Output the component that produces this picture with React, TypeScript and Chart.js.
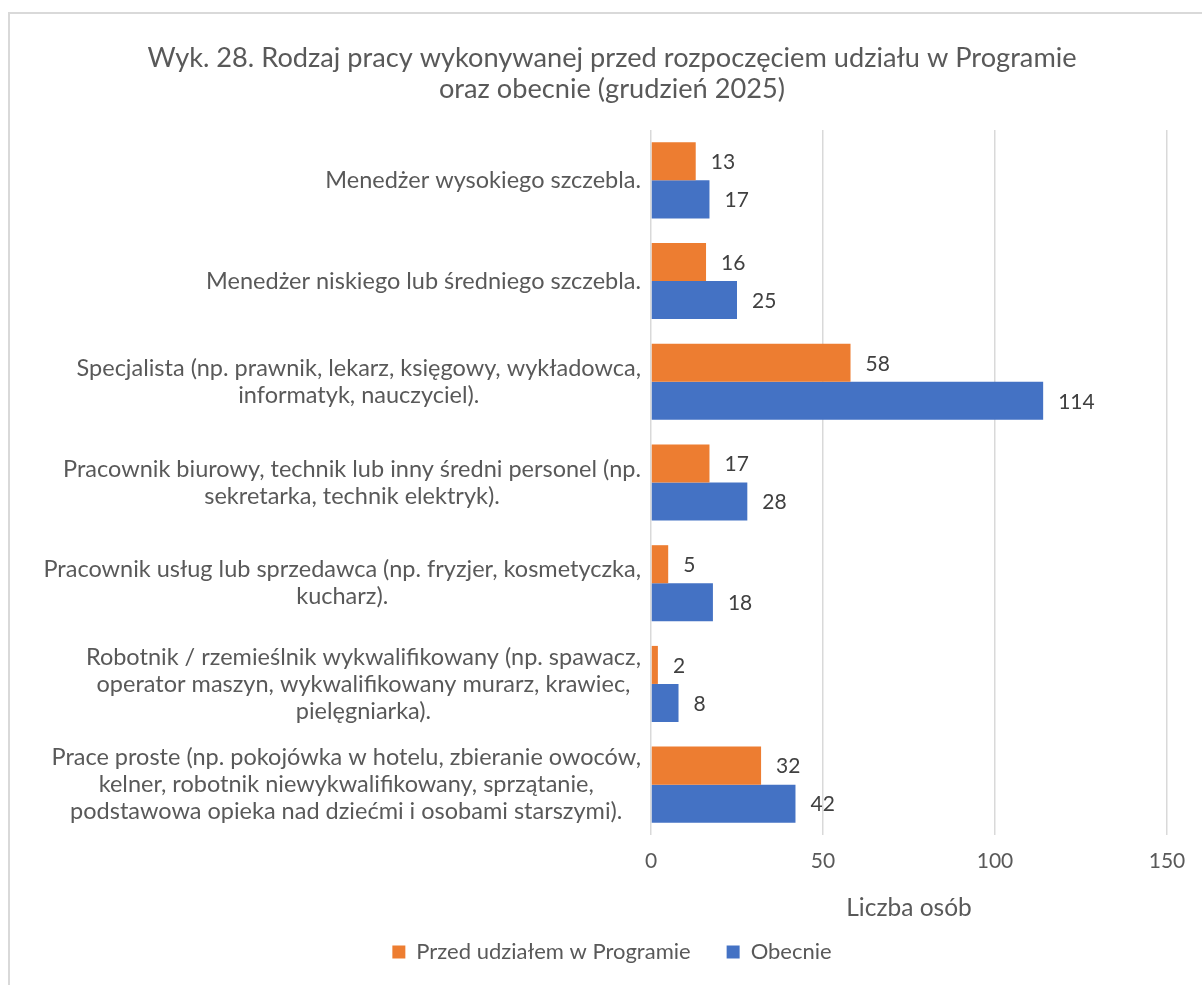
import React, { useEffect, useRef } from "react";
import { Chart, registerables } from "chart.js";

Chart.register(...registerables);

// ---------- data ----------
const categoryLines: string[][] = [
  ["Menedżer wysokiego szczebla."],
  ["Menedżer niskiego lub średniego szczebla."],
  ["Specjalista (np. prawnik, lekarz, księgowy, wykładowca,", "informatyk, nauczyciel)."],
  ["Pracownik biurowy, technik lub inny średni personel (np.", "sekretarka, technik elektryk)."],
  ["Pracownik usług lub sprzedawca (np. fryzjer, kosmetyczka,", "kucharz)."],
  ["Robotnik / rzemieślnik wykwalifikowany (np. spawacz,", "operator maszyn, wykwalifikowany murarz, krawiec,", "pielęgniarka)."],
  ["Prace proste (np. pokojówka w hotelu, zbieranie owoców,", "kelner, robotnik niewykwalifikowany, sprzątanie,", "podstawowa opieka nad dziećmi i osobami starszymi)."],
];
const seriesNames = ["Przed udziałem w Programie", "Obecnie"];
const przedValues = [13, 16, 58, 17, 5, 2, 32];
const obecnieValues = [17, 25, 114, 28, 18, 8, 42];
const xTickValues = [0, 50, 100, 150];
const titleLines = [
  "Wyk. 28. Rodzaj pracy wykonywanej przed rozpoczęciem udziału w Programie",
  "oraz obecnie (grudzień 2025)",
];
const xAxisTitle = "Liczba osób";

// ---------- style ----------
const FONT = "Lato, 'Open Sans', sans-serif";
const TEXT = "#595959";
const LABEL_DARK = "#404040";
const ORANGE = "#ED7D31";
const BLUE = "#4472C4";
const GRID = "#D9D9D9";
const CAT_FONT = 23.5;
const CAT_LINE = 27;
const VAL_FONT = 21;

const categoryLabelPlugin = {
  id: "categoryLabels",
  afterDraw(chart: any) {
    const { ctx, chartArea, scales } = chart;
    const y = scales.y;
    ctx.save();
    ctx.font = `${CAT_FONT}px ${FONT}`;
    ctx.fillStyle = TEXT;
    ctx.textAlign = "center";
    ctx.textBaseline = "middle";
    categoryLines.forEach((lines, i) => {
      const cy = y.getPixelForValue(i);
      const w = Math.max(...lines.map((l) => ctx.measureText(l).width));
      const right = chartArea.left - 10;
      const cx = right - w / 2;
      const n = lines.length;
      lines.forEach((l, j) => {
        ctx.fillText(l, cx, cy + (j - (n - 1) / 2) * CAT_LINE);
      });
    });
    ctx.restore();
  },
};

const valueLabelPlugin = {
  id: "valueLabels",
  afterDatasetsDraw(chart: any) {
    const { ctx } = chart;
    ctx.save();
    ctx.font = `${VAL_FONT}px ${FONT}`;
    ctx.fillStyle = LABEL_DARK;
    ctx.textAlign = "left";
    ctx.textBaseline = "middle";
    chart.data.datasets.forEach((ds: any, di: number) => {
      const meta = chart.getDatasetMeta(di);
      meta.data.forEach((bar: any, j: number) => {
        const { x, y } = bar.getProps(["x", "y"], true);
        ctx.fillText(String(ds.data[j]), x + 15, y + 1);
      });
    });
    ctx.restore();
  },
};

export default function App() {
  const ref = useRef<HTMLCanvasElement | null>(null);

  useEffect(() => {
    if (!ref.current) return;
    const chart = new Chart(ref.current, {
      type: "bar",
      data: {
        labels: categoryLines.map((l) => l.join(" ")),
        datasets: [
          {
            label: seriesNames[0],
            data: przedValues,
            backgroundColor: ORANGE,
            categoryPercentage: 0.755,
            barPercentage: 1,
          },
          {
            label: seriesNames[1],
            data: obecnieValues,
            backgroundColor: BLUE,
            categoryPercentage: 0.755,
            barPercentage: 1,
          },
        ],
      },
      options: {
        indexAxis: "y",
        responsive: false,
        animation: false,
        layout: { padding: { left: 0, right: 0, top: 0, bottom: 12 } },
        scales: {
          x: {
            type: "linear",
            min: 0,
            max: 150,
            afterBuildTicks: (s: any) => {
              s.ticks = xTickValues.map((v) => ({ value: v }));
            },
            afterFit: (s: any) => {
              s.height = 70;
            },
            grid: { color: GRID, lineWidth: 1.5, drawTicks: false },
            border: { display: false },
            ticks: {
              padding: 14,
              color: TEXT,
              font: { family: FONT, size: 21 },
            },
            title: {
              display: true,
              text: xAxisTitle,
              color: TEXT,
              font: { family: FONT, size: 24.5 },
              padding: { top: 0, bottom: -17.5 },
            },
          },
          y: {
            type: "category",
            position: "left",
            afterFit: (s: any) => {
              s.width = 641;
            },
            grid: { display: false },
            border: { display: false },
            ticks: { display: false },
          },
          yRight: {
            type: "category",
            position: "right",
            afterFit: (s: any) => {
              s.width = 47;
            },
            grid: { display: false },
            border: { display: false },
            ticks: { display: false },
          },
        },
        plugins: {
          title: {
            display: true,
            text: titleLines,
            color: TEXT,
            font: { family: FONT, size: 27.2, weight: "normal", lineHeight: 31 / 27.2 },
            padding: { top: 29, bottom: 25 },
          },
          legend: {
            position: "bottom",
            labels: {
              color: TEXT,
              font: { family: FONT, size: 22 },
              boxWidth: 13,
              boxHeight: 13,
              padding: 36,
            },
          },
          tooltip: { enabled: false },
        },
      },
      plugins: [categoryLabelPlugin, valueLabelPlugin],
    } as any);
    return () => chart.destroy();
  }, []);

  return (
    <div
      style={{
        position: "absolute",
        left: 8,
        top: 12,
        width: 1194,
        height: 973,
        overflow: "hidden",
        background: "#fff",
      }}
    >
      <div
        style={{
          borderTop: `2px solid ${GRID}`,
          borderLeft: `2px solid ${GRID}`,
          width: 1204,
          height: 971,
        }}
      >
        <canvas ref={ref} width={1204} height={971} style={{ display: "block" }} />
      </div>
    </div>
  );
}
